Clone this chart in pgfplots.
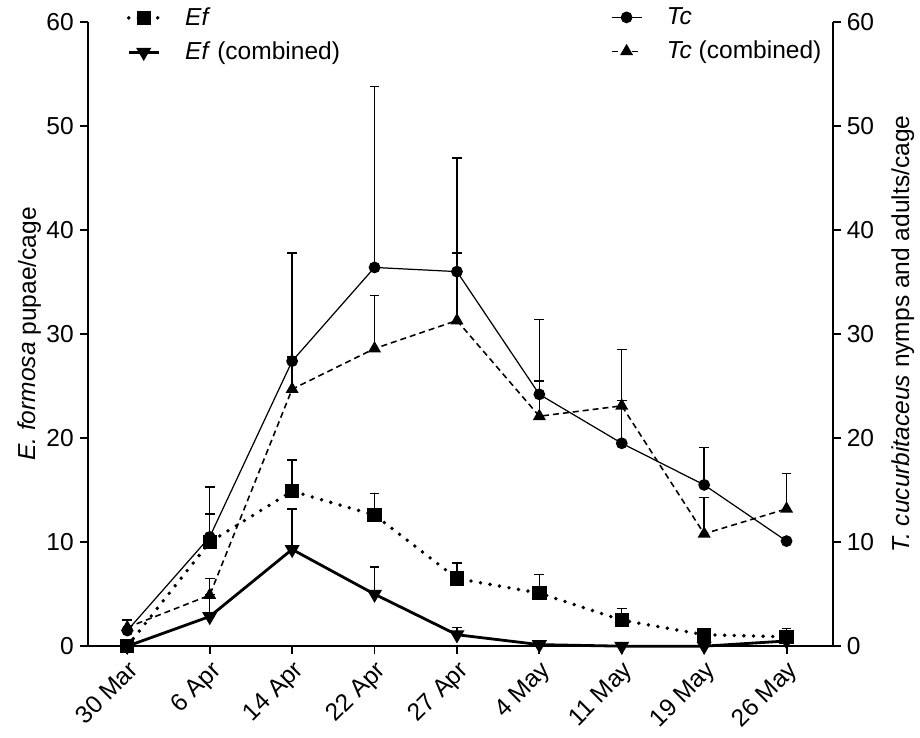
\documentclass[border=0pt]{standalone}
\usepackage{fontspec}
\setmainfont{Liberation Sans}
\usepackage{pgfplots}
\pgfplotsset{compat=1.18}

\newcommand\fs{\fontsize{14pt}{16.5pt}\selectfont}

\pgfplotsset{
  base/.style={
    width=149.4mm, height=125.2mm, scale only axis,
    xmin=-0.48, xmax=8.56, ymin=0, ymax=60,
    ytick={0,10,...,60},
    tick align=outside, major tick length=4.5pt,
    tick style={line width=1.1pt, black},
    axis line style={line width=1.1pt},
    ticklabel style={font=\fs},
    /pgf/number format/assume math mode=true,
    clip=false,
    legend style={draw=none, fill=none, font=\fs, inner sep=0pt,
      row sep=4pt, column sep=12pt, legend cell align=left},
  },
  eb/.style={error bars/.cd, y dir=plus, y explicit,
    error bar style={line width=0.8pt, solid, black},
    error mark options={rotate=90, mark size=2.8pt, line width=0.8pt, solid}},
}

\begin{document}
\begin{tikzpicture}
\begin{axis}[base,
    axis x line*=bottom, axis y line*=left,
    xtick={0,...,8},
    xticklabels={30 Mar,6 Apr,14 Apr,22 Apr,27 Apr,4 May,11 May,19 May,26 May},
    xticklabel style={rotate=45, anchor=north east, inner sep=2pt},
    ylabel={\textit{E. formosa} pupae/cage},
    ylabel style={font=\fs, at={(axis description cs:-0.078,0.5)}, anchor=center},
    legend style={at={(0.052,1.029)}, anchor=north west},
]
% page frame, same margins as the reference
\path (rel axis cs:-0.1178,-0.139) rectangle (rel axis cs:1.1138,1.0351);
% Ef
\addplot[black, line width=2.2pt, line cap=round, dash pattern=on 0pt off 5.5pt,
    mark=square*, mark size=3pt, mark options={solid}, eb]
  coordinates {
    (0,0) +- (0,0)
    (1,10.0) +- (0,2.7)
    (2,14.9) +- (0,3.0)
    (3,12.6) +- (0,2.1)
    (4,6.5) +- (0,1.5)
    (5,5.1) +- (0,1.8)
    (6,2.5) +- (0,1.1)
    (7,1.1) +- (0,0)
    (8,0.9) +- (0,0.8)
  };
\addlegendentry{\textit{Ef}}
% Ef combined
\addplot[black, line width=1.6pt,
    mark=triangle*, mark size=3.4pt, mark options={solid, rotate=180}, eb]
  coordinates {
    (0,0) +- (0,0)
    (1,2.85) +- (0,2.1)
    (2,9.3) +- (0,3.9)
    (3,5.0) +- (0,2.6)
    (4,1.1) +- (0,0.7)
    (5,0.15) +- (0,0)
    (6,0) +- (0,0)
    (7,0) +- (0,0)
    (8,0.5) +- (0,0)
  };
\addlegendentry{\textit{Ef} (combined)}
\end{axis}

\begin{axis}[base,
    axis x line=none, axis y line*=right,
    ylabel={\textit{T. cucurbitaceus} nymps and adults/cage},
    ylabel style={font=\fs, at={(axis description cs:1.094,0.5)}, anchor=center, rotate=0},
    legend style={at={(0.99,1.029)}, anchor=north east},
]
% Tc
\addplot[black, line width=0.7pt,
    mark=*, mark size=3pt, mark options={solid}, eb]
  coordinates {
    (0,1.5) +- (0,1.0)
    (1,10.5) +- (0,4.8)
    (2,27.4) +- (0,10.4)
    (3,36.4) +- (0,17.4)
    (4,36.0) +- (0,10.9)
    (5,24.2) +- (0,7.2)
    (6,19.5) +- (0,9.0)
    (7,15.5) +- (0,3.6)
    (8,10.1) +- (0,0)
  };
\addlegendentry{\textit{Tc}}
% Tc combined
\addplot[black, line width=0.9pt, dash pattern=on 3.4pt off 2.3pt,
    mark=triangle*, mark size=3.4pt, mark options={solid}, eb]
  coordinates {
    (0,1.8) +- (0,0.7)
    (1,4.9) +- (0,1.6)
    (2,24.7) +- (0,3.1)
    (3,28.6) +- (0,5.1)
    (4,31.3) +- (0,6.5)
    (5,22.1) +- (0,3.4)
    (6,23.1) +- (0,0.5)
    (7,10.8) +- (0,3.5)
    (8,13.2) +- (0,3.4)
  };
\addlegendentry{\textit{Tc} (combined)}
\end{axis}
\end{tikzpicture}
\end{document}
